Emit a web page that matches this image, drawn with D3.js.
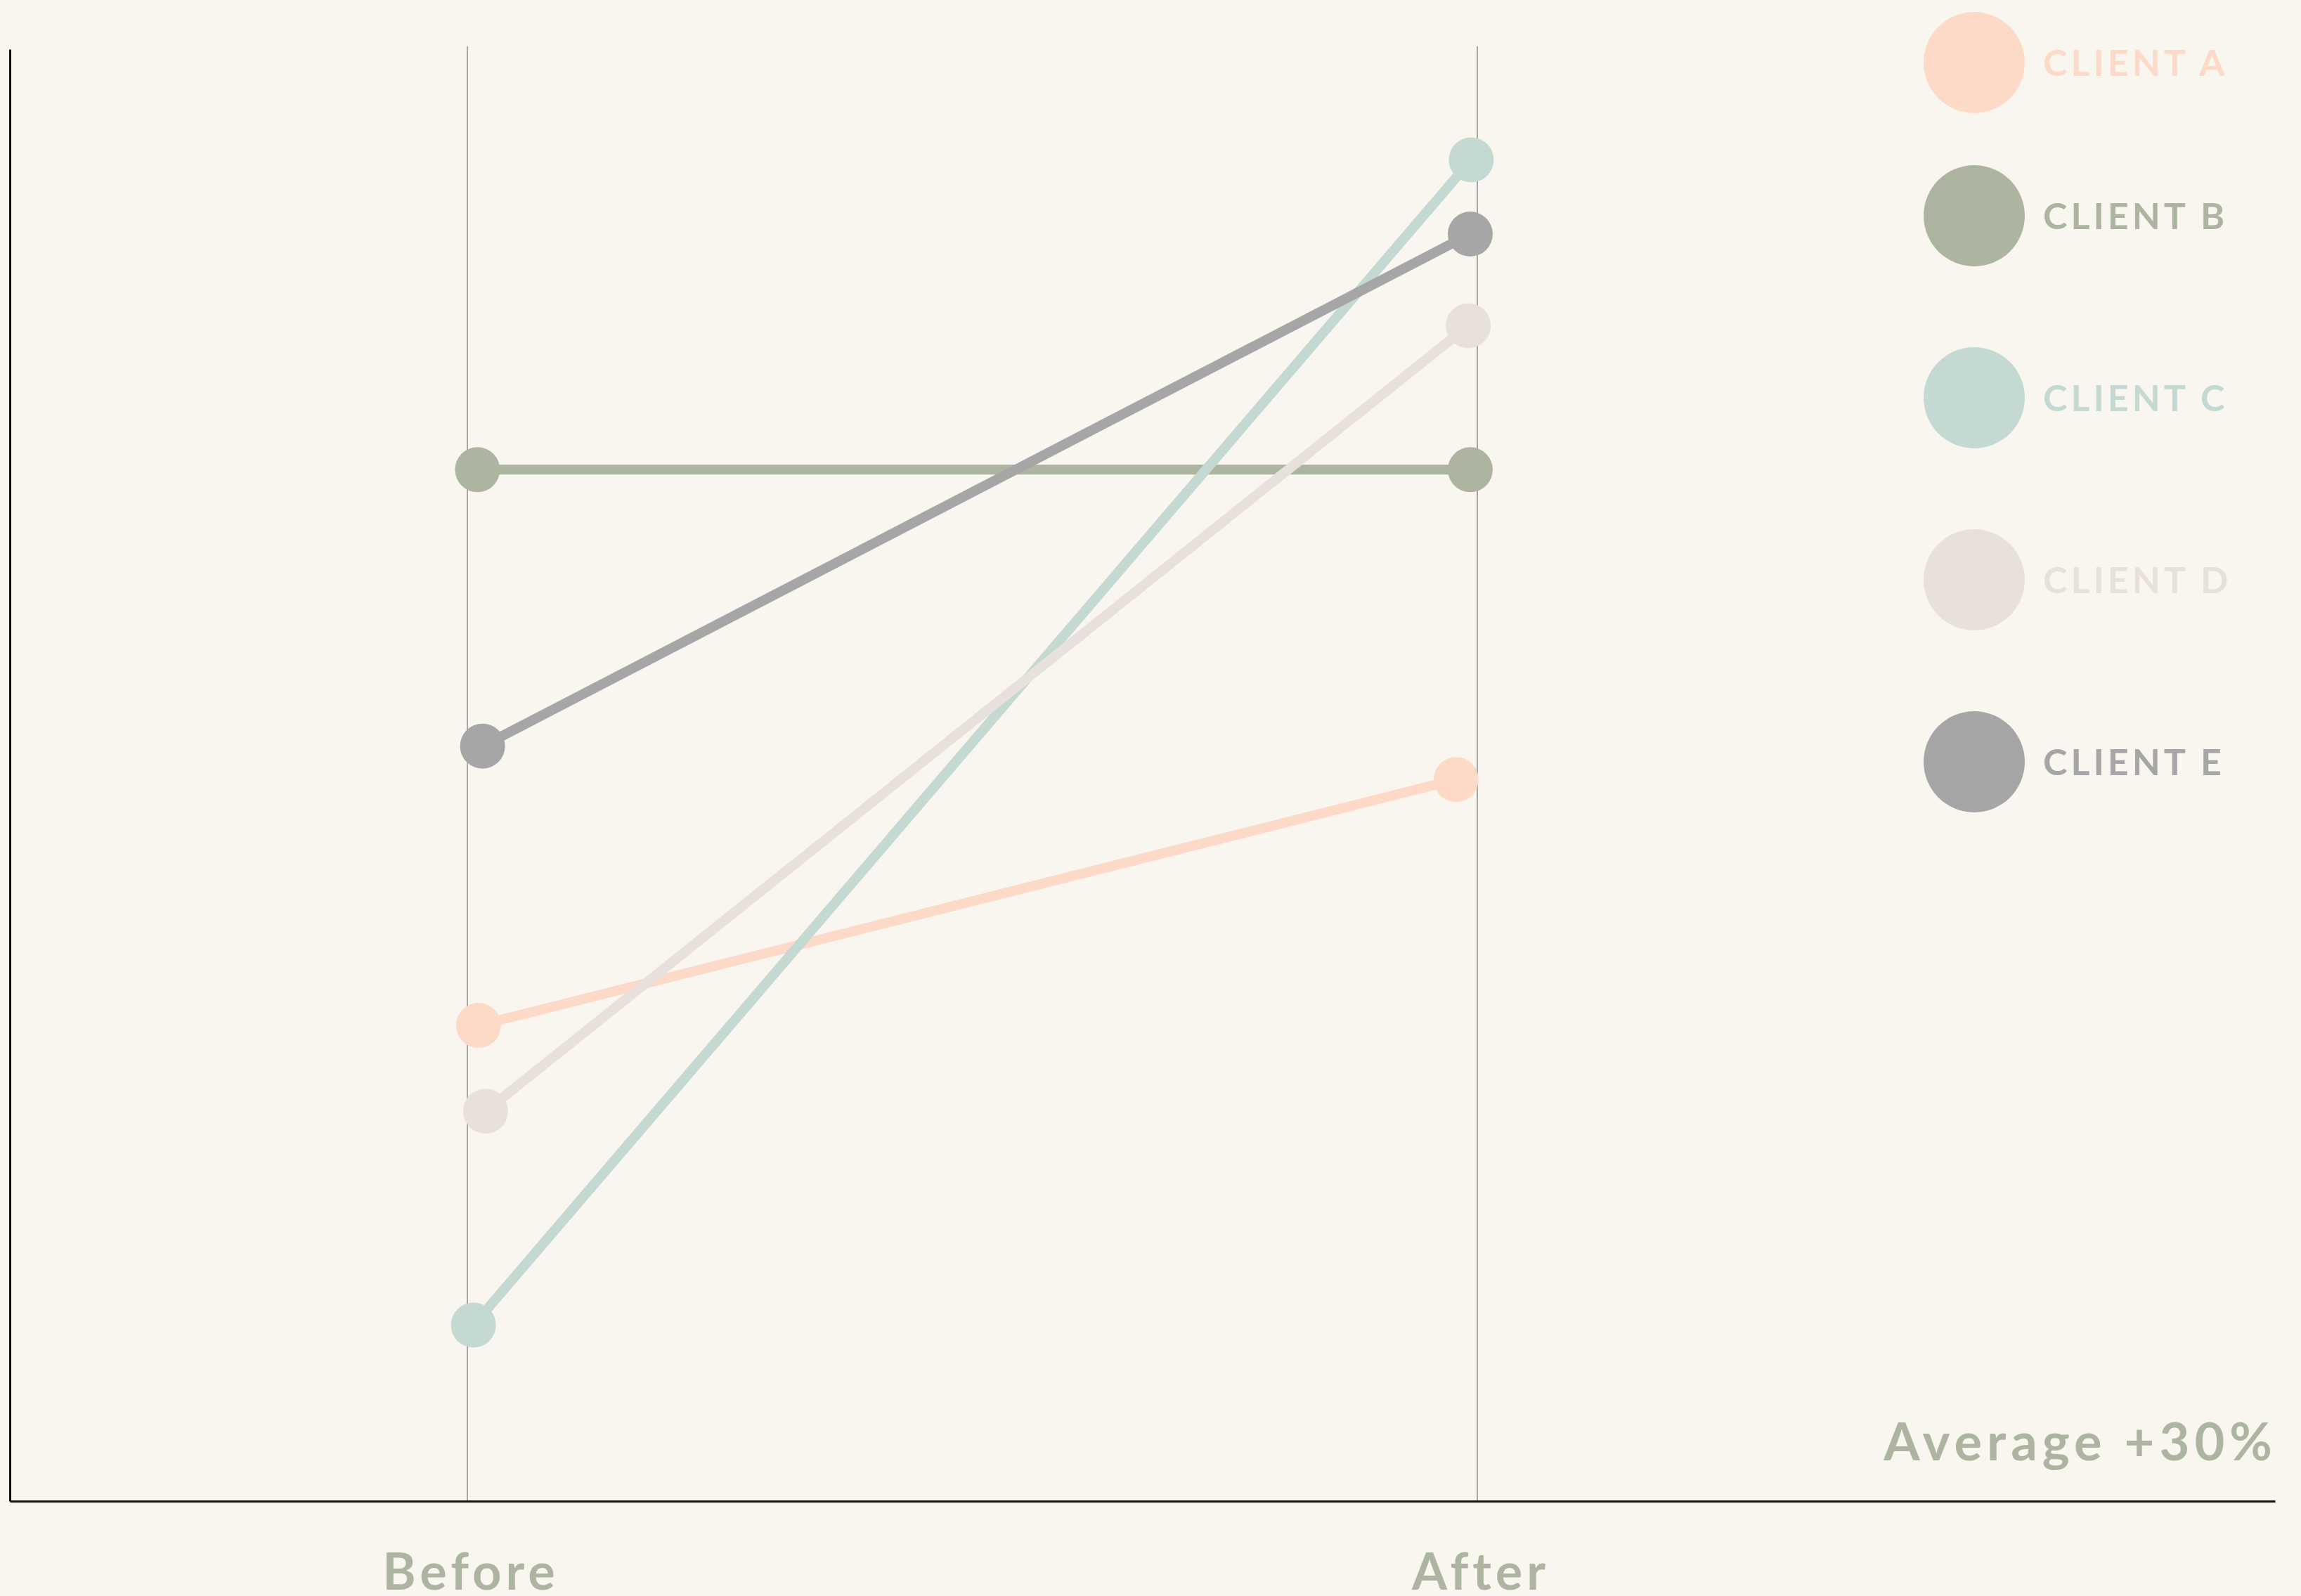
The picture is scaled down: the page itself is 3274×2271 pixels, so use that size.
<!DOCTYPE html>
<html>
<head>
<meta charset="utf-8">
<script src="https://cdn.jsdelivr.net/npm/d3@7"></script>
<style>
  html, body { margin: 0; padding: 0; background: #f9f6ef; }
  svg { display: block; }
  text { font-family: Lato, "Open Sans", sans-serif; font-weight: 700; }
</style>
</head>
<body>
<script>
// Slope chart: each client's score before and after.
const clients = ["CLIENT A", "CLIENT B", "CLIENT C", "CLIENT D", "CLIENT E"];
const stages = ["Before", "After"];
const beforeValues = [32.7, 70.9, 12.1, 26.8, 51.9];
const afterValues = [49.6, 70.9, 92.2, 80.8, 87.1];
// Horizontal placement of each point along the before→after axis (0 = Before, 1 = After)
const beforeX = [0.011, 0.010, 0.006, 0.018, 0.015];
const afterX = [0.979, 0.993, 0.994, 0.991, 0.993];
const summaryLabel = "Average +30%";

const palette = ["#fdd9c7", "#adb5a0", "#c3d9d1", "#e8e0db", "#a6a6a6"];
const labelColor = "#adb5a0";

const W = 3274, H = 2271;
const svg = d3.select("body").append("svg")
  .attr("width", W).attr("height", H);
svg.append("rect").attr("width", W).attr("height", H).attr("fill", "#f9f6ef");

const x = d3.scaleLinear().domain([0, 1]).range([665, 2102]);
const y = d3.scaleLinear().domain([0, 100]).range([2136, 66]);
const xFrame = d3.scaleLinear().domain([0, 1]).range([14, 3237]);

const series = clients.map((name, i) => ({
  name,
  color: palette[i],
  points: [
    { t: beforeX[i], v: beforeValues[i] },
    { t: afterX[i], v: afterValues[i] }
  ]
}));

// Vertical guides at Before / After
svg.append("g").selectAll("line")
  .data([0, 1]).join("line")
  .attr("x1", d => x(d)).attr("x2", d => x(d))
  .attr("y1", y(100)).attr("y2", y(0))
  .attr("stroke", "#a6a6a6").attr("stroke-width", 2);

// Frame axes (no ticks)
const leftAxis = svg.append("g")
  .attr("transform", `translate(${xFrame(0)},0)`)
  .call(d3.axisLeft(y.copy().range([2136, 70])).tickValues([]).tickSizeOuter(0));
const bottomAxis = svg.append("g")
  .attr("transform", `translate(0,${y(0)})`)
  .call(d3.axisBottom(xFrame).tickValues([]).tickSizeOuter(0));
[leftAxis, bottomAxis].forEach(g => g.select(".domain")
  .attr("stroke", "#111").attr("stroke-width", 3));

// Connecting lines
const line = d3.line().x(d => x(d.t)).y(d => y(d.v));
svg.append("g").selectAll("path")
  .data(series).join("path")
  .attr("d", d => line(d.points))
  .attr("fill", "none")
  .attr("stroke", d => d.color)
  .attr("stroke-width", 14);

// End points
svg.append("g").selectAll("g")
  .data(series).join("g")
  .attr("fill", d => d.color)
  .selectAll("circle")
  .data(d => d.points).join("circle")
  .attr("cx", d => x(d.t)).attr("cy", d => y(d.v))
  .attr("r", 32);

// Stage labels
svg.append("g").selectAll("text")
  .data(stages).join("text")
  .attr("x", (d, i) => x(i) + 5)
  .attr("y", 2262)
  .attr("text-anchor", "middle")
  .attr("font-size", 72)
  .attr("letter-spacing", 6)
  .attr("fill", labelColor)
  .text(d => d);

// Summary
svg.append("text")
  .attr("x", 3240).attr("y", 2078)
  .attr("text-anchor", "end")
  .attr("font-size", 74)
  .attr("letter-spacing", 7)
  .attr("fill", labelColor)
  .text(summaryLabel);

// Legend
const legendY = i => (i === 0 ? 89 : 307 + (i - 1) * 259);
const legend = svg.append("g").selectAll("g")
  .data(series).join("g")
  .attr("transform", (d, i) => `translate(2809,${legendY(i)})`);
legend.append("circle").attr("r", 72).attr("fill", d => d.color);
legend.append("text")
  .attr("x", 98).attr("dy", "0.36em")
  .attr("font-size", 52)
  .attr("letter-spacing", 5)
  .attr("fill", d => d.color)
  .text(d => d.name);
</script>
</body>
</html>
